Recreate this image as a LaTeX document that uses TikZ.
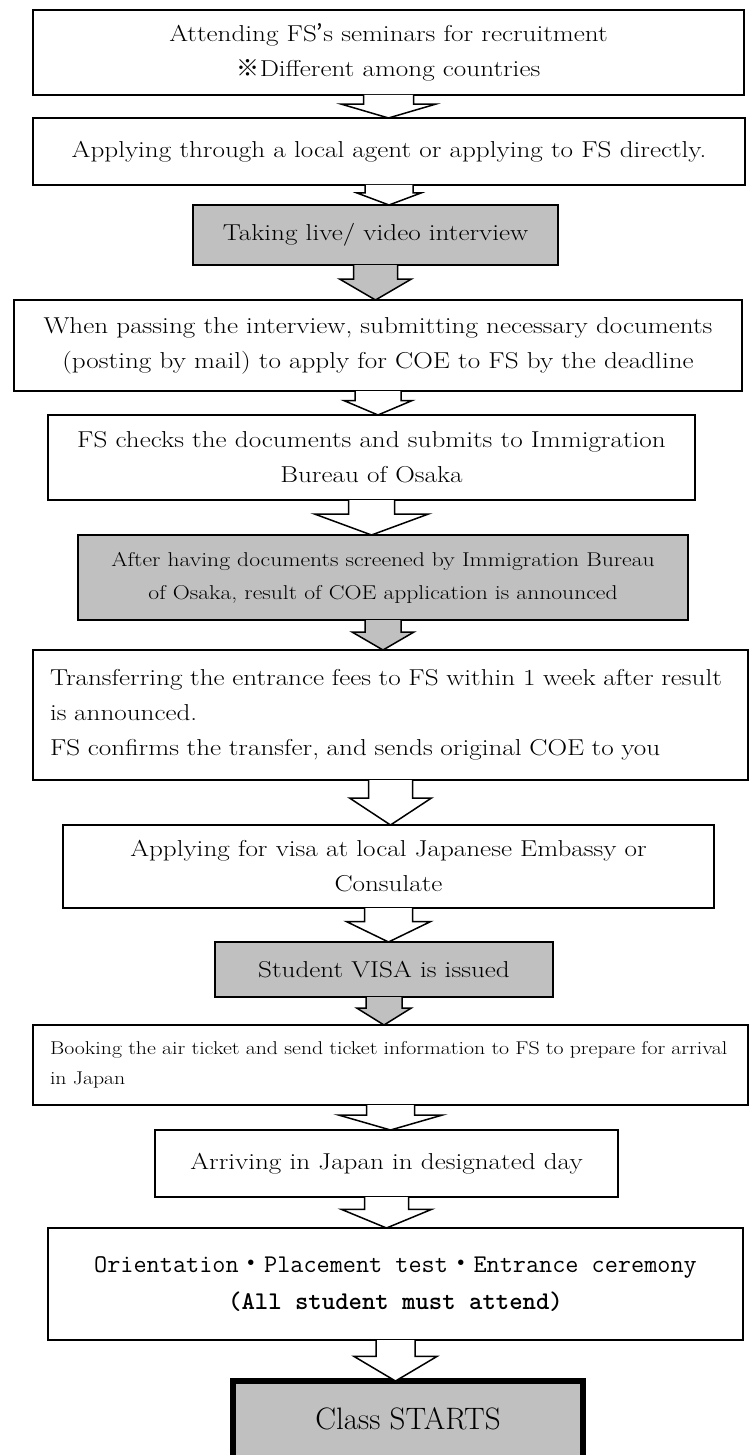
\documentclass[tikz,border=0pt]{standalone}
\usepackage{fontspec}
\newfontfamily\cjk{Noto Sans CJK JP}
\newfontfamily\mincho{lmroman17-regular.otf}[FakeStretch=1.18]
\usetikzlibrary{positioning, calc}

\definecolor{boxgray}{RGB}{192,192,192}

\newcommand{\widefont}[2]{\mincho\fontsize{#1}{#2}\selectfont}

\tikzset{
  stepbox/.style={draw, line width=1.5pt, inner sep=4pt, outer sep=0pt, align=center,
    font=\widefont{23}{35}},
  graybox/.style={stepbox, fill=boxgray},
  arrowline/.style={draw, line width=1.5pt, line join=miter},
}

% block arrow: [fill]{from}{to}{shaft half width}{head half width}
\newcommand{\fatarrow}[5][white]{%
  \draw[arrowline, fill=#1] let \p1=(#2.south), \p2=(#3.north),
      \p3=($(\p1)!0.4!(\p2)$) in
    ({\x1-#4pt},\y1) -- ({\x1-#4pt},\y3) -- ({\x1-#5pt},\y3) -- (\x1,\y2)
    -- ({\x1+#5pt},\y3) -- ({\x1+#4pt},\y3) -- ({\x1+#4pt},\y1);
}

\begin{document}
\begin{tikzpicture}
\useasboundingbox (0,0) rectangle (753pt,-1455pt);

\node[stepbox, minimum width=711pt, minimum height=85pt] (seminar) at (388.5pt,-52.5pt)
  {Attending FS{\cjk ’}s seminars for recruitment\\{\cjk ※}Different among countries};
\node[stepbox, minimum width=712pt, minimum height=67pt, below=23pt of seminar, xshift=0.5pt] (apply)
  {Applying through a local agent or applying to FS directly.};
\node[graybox, minimum width=365pt, minimum height=60pt, below=20pt of apply, xshift=-13.5pt] (interview)
  {Taking live/ video interview};
\node[stepbox, minimum width=728pt, minimum height=91pt, below=35pt of interview, xshift=2.5pt] (documents)
  {When passing the interview, submitting necessary documents\\(posting by mail) to apply for COE to FS by the deadline};
\node[stepbox, minimum width=647pt, minimum height=85pt, below=24pt of documents, xshift=-6.5pt] (check)
  {FS checks the documents and submits to Immigration\\Bureau of Osaka};
\node[graybox, minimum width=610pt, minimum height=85pt, below=35pt of check, xshift=11.5pt,
  font=\widefont{20}{33}] (result)
  {After having documents screened by Immigration Bureau\\of Osaka, result of COE application is announced};
\node[stepbox, minimum width=715pt, minimum height=130pt, below=30pt of result, xshift=7.5pt,
  text width=681pt, align=left] (fees)
  {Transferring the entrance fees to FS within 1 week after result\\is announced.\\FS confirms the transfer, and sends original COE to you};
\node[stepbox, minimum width=651pt, minimum height=83pt, below=45pt of fees, xshift=-2pt] (visa)
  {Applying for visa at local Japanese Embassy or\\Consulate};
\node[graybox, minimum width=338pt, minimum height=55pt, below=34pt of visa, xshift=-4.5pt] (issued)
  {Student VISA is issued};
\node[stepbox, minimum width=715pt, minimum height=80pt, below=28pt of issued, xshift=6.5pt,
  text width=681pt, align=left, font=\widefont{18.5}{30}] (ticket)
  {Booking the air ticket and send ticket information to FS to prepare for arrival\\in Japan};
\node[stepbox, minimum width=463pt, minimum height=67pt, below=25pt of ticket, xshift=-4pt] (arrive)
  {Arriving in Japan in designated day};
\node[stepbox, minimum width=695pt, minimum height=112pt, below=31pt of arrive, xshift=9pt,
  font=\ttfamily\fontsize{25.5}{37}\selectfont] (orient)
  {Orientation{\cjk ・}Placement test{\cjk ・}Entrance ceremony\\\textbf{(All student must attend)}};
\node[graybox, line width=6pt, minimum width=350pt, minimum height=110pt, below=41pt of orient, xshift=12.5pt,
  font=\rmfamily\fontsize{31}{36}\selectfont] (start)
  {\raisebox{34pt}{Class STARTS}};

\fatarrow{seminar}{apply}{25}{47}
\fatarrow{apply}{interview}{24}{32}
\fatarrow[boxgray]{interview}{documents}{22}{36}
\fatarrow{documents}{check}{23}{34}
\fatarrow{check}{result}{23}{57}
\fatarrow[boxgray]{result}{fees}{18}{31}
\fatarrow{fees}{visa}{22}{41}
\fatarrow{visa}{issued}{24}{42}
\fatarrow[boxgray]{issued}{ticket}{18}{27}
\fatarrow{ticket}{arrive}{24}{52}
\fatarrow{arrive}{orient}{22}{45}
\fatarrow{orient}{start}{19.5}{41.5}
\end{tikzpicture}
\end{document}
